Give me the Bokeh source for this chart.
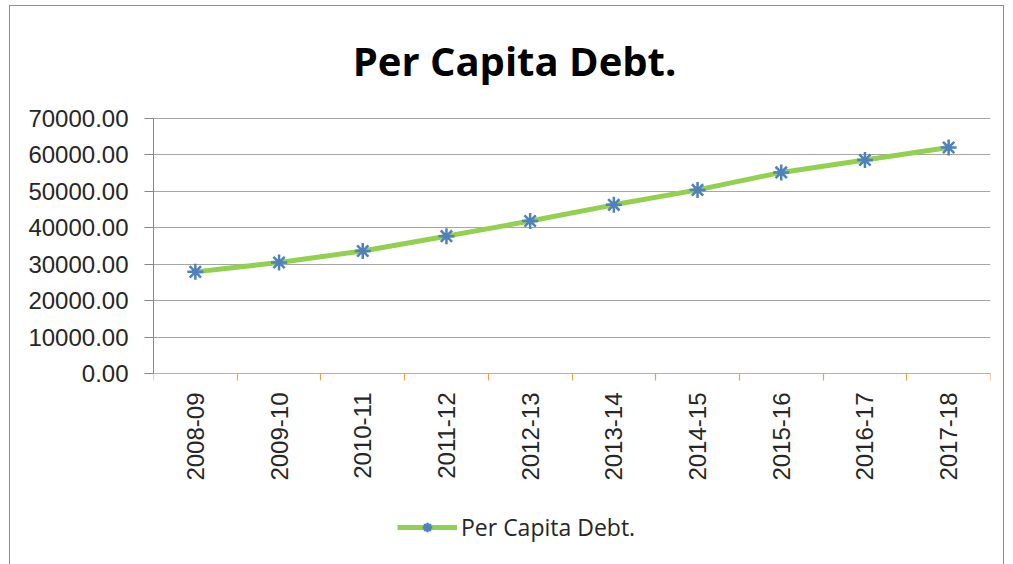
from bokeh.plotting import figure
from bokeh.models import (Range1d, FixedTicker, NumeralTickFormatter, Legend, LegendItem, Label)
from bokeh.embed import file_html
from bokeh.resources import INLINE
import math

years = ["2008-09", "2009-10", "2010-11", "2011-12", "2012-13",
         "2013-14", "2014-15", "2015-16", "2016-17", "2017-18"]
debt = [27900, 30450, 33650, 37700, 41850, 46300, 50400, 55200, 58600, 62050]
y_ticks = [0, 10000, 20000, 30000, 40000, 50000, 60000, 70000]
series_name = "Per Capita Debt."
chart_title = "Per Capita Debt."

xs = [i + 0.5 for i in range(len(years))]

# value axis 0..70000 spans 255px; the frame extends 112px above it (title)
# and 179px below it (category labels and legend)
y_max = 70000
px = y_max / 255
y_range_top = y_max + 112 * px
y_range_bottom = -179 * px

p = figure(width=995, height=560, output_backend="svg", toolbar_location=None,
           x_range=Range1d(0, len(years)), y_range=Range1d(y_range_bottom, y_range_top),
           min_border_left=143, min_border_right=15, min_border_top=0,
           min_border_bottom=14)
p.styles = {"border": "1px solid #8c8c8c", "margin-left": "9px", "margin-top": "5px"}
p.outline_line_color = None
p.background_fill_color = "white"
p.border_fill_color = "white"

title = Label(x=len(years) * 0.4313, y=y_max + 58 * px, text=chart_title,
              text_align="center", text_baseline="alphabetic",
              text_font="Open Sans", text_font_size="40px",
              text_font_style="bold", text_color="#000000")
p.add_layout(title)

ln = p.line(xs, debt, line_color="#92D050", line_width=5)
sc = p.scatter(xs, debt, marker="asterisk", size=16, line_color="#4F81BD",
               line_width=2.5)

# x axis
xa = p.xaxis[0]
xa.fixed_location = 0
xa.ticker = FixedTicker(ticks=xs, minor_ticks=list(range(len(years) + 1)))
xa.major_label_overrides = {x: y for x, y in zip(xs, years)}
xa.major_tick_line_color = None
xa.minor_tick_line_color = "#E9A54E"
xa.minor_tick_line_width = 1.2
xa.minor_tick_out = 7
xa.minor_tick_in = 0
xa.axis_line_color = "#E9A54E"
xa.axis_line_width = 1.2
xa.major_label_orientation = math.pi / 2
xa.major_label_standoff = 12
xa.major_label_text_font = "Liberation Sans"
xa.major_label_text_font_size = "24px"
xa.major_label_text_color = "#262626"

# y axis
ya = p.yaxis[0]
ya.bounds = (0, y_max)
ya.ticker = FixedTicker(ticks=y_ticks)
ya.formatter = NumeralTickFormatter(format="0.00")
ya.minor_tick_line_color = None
ya.major_tick_out = 9
ya.major_tick_in = 0
ya.major_tick_line_color = "#868686"
ya.axis_line_color = "#868686"
ya.major_label_standoff = 16
ya.major_label_text_font = "Liberation Sans"
ya.major_label_text_font_size = "24px"
ya.major_label_text_color = "#262626"

p.xgrid.grid_line_color = None
p.ygrid.ticker = FixedTicker(ticks=y_ticks)
p.ygrid.grid_line_color = "#A6A6A6"
p.ygrid.grid_line_width = 1.2

legend = Legend(items=[LegendItem(label=series_name, renderers=[ln, sc])],
                location=(244, 9), orientation="horizontal",
                glyph_width=60, glyph_height=24, label_text_font="Open Sans",
                label_text_font_size="23px", label_text_color="#262626",
                border_line_color=None, background_fill_alpha=0,
                margin=0, padding=4, label_standoff=4)
p.add_layout(legend)

open("out.html", "w").write(file_html(p, INLINE))
